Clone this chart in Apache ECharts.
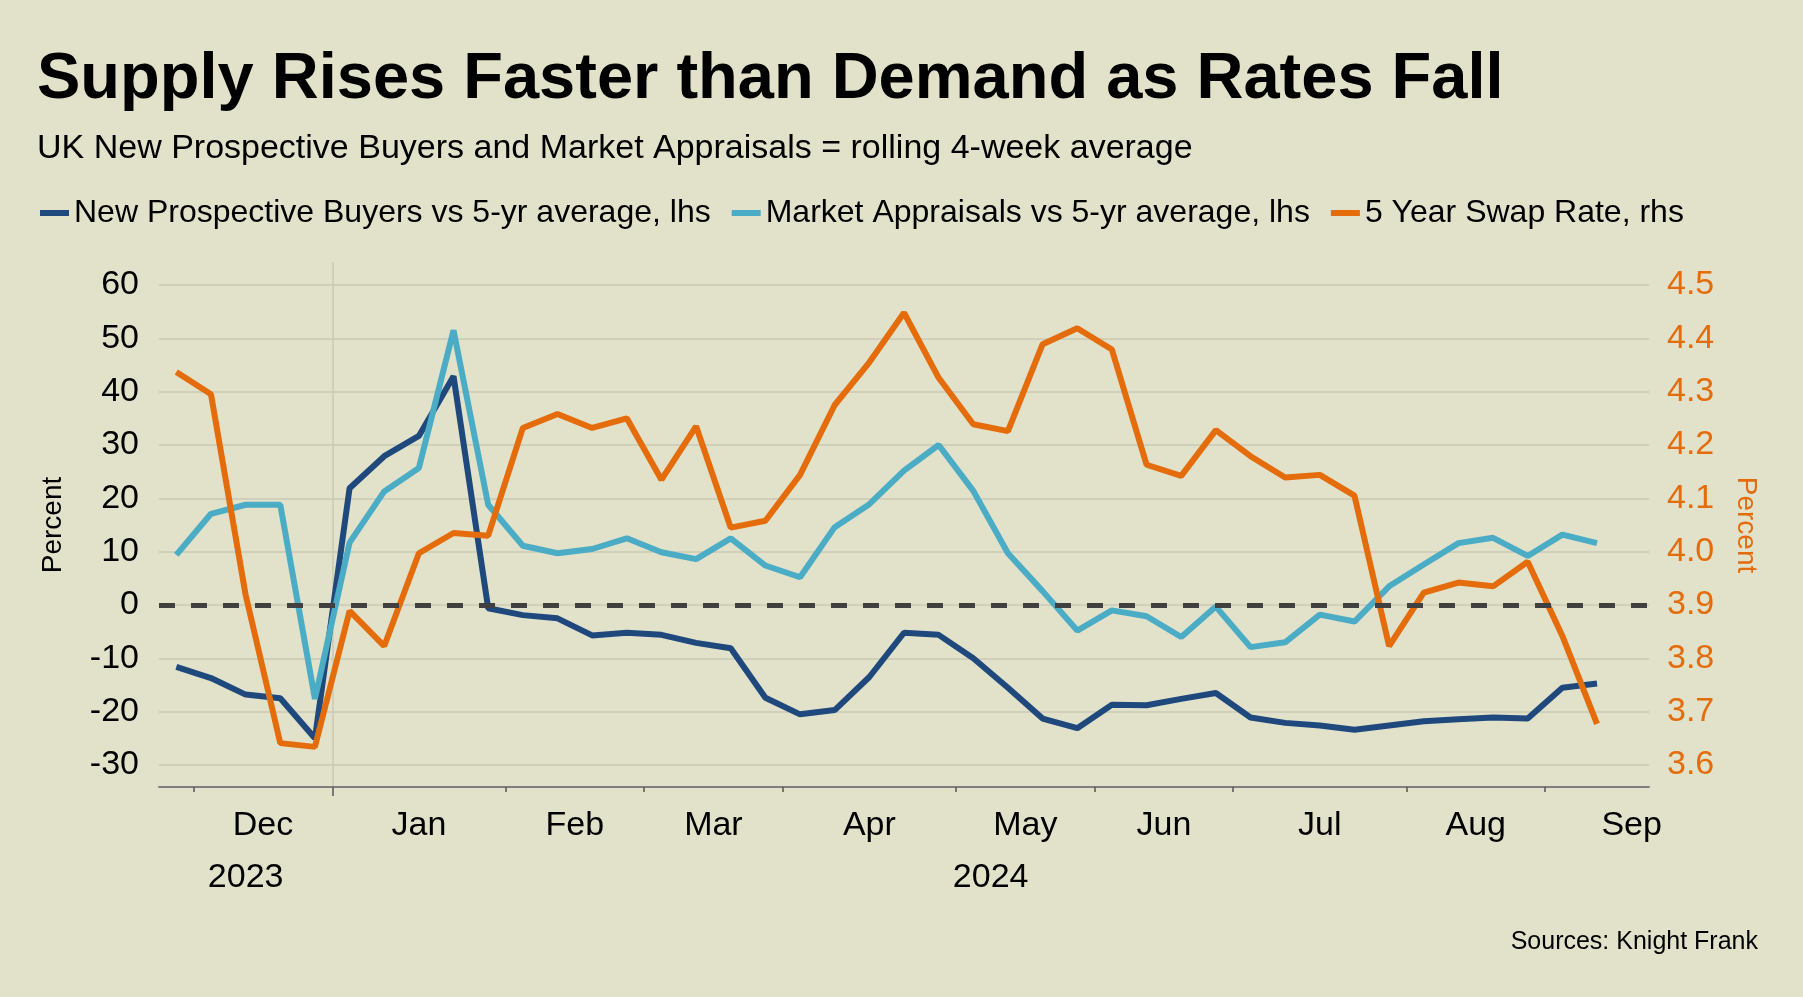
<!DOCTYPE html>
<html>
<head>
    <meta charset="UTF-8" />
    <title>Supply Rises Faster than Demand as Rates Fall</title>
    <script src="https://cdn.jsdelivr.net/npm/echarts@6/dist/echarts.min.js"></script>
    <style>
        html, body { margin: 0; padding: 0; background: #E2E1CA; }
        #chart { width: 1803px; height: 997px; }
    </style>
</head>
<body>
<div id="chart"></div>
<script type="text/javascript">
    // weekly categories: Mondays from 27 Nov 2023, 43 weeks on the axis
    var firstWeek = '2023-11-27';
    var weekCount = 43;

    // month groups on the axis (Mondays per month), Nov-23 .. Sep-24
    var monthNames = ['', 'Dec', 'Jan', 'Feb', 'Mar', 'Apr', 'May', 'Jun', 'Jul', 'Aug', 'Sep'];
    var monthWeeks = [1, 4, 5, 4, 4, 5, 4, 4, 5, 4, 5];
    var yearNames = ['2023', '2024'];
    var yearWeeks = [5, 38];

    // New Prospective Buyers vs 5-yr average, lhs (%)
    var buyers = [-11.6, -13.7, -16.8, -17.5, -25.0, 21.9, 27.9, 31.7, 42.9, -0.6, -1.9,
        -2.5, -5.7, -5.2, -5.6, -7.1, -8.1, -17.4, -20.5, -19.7, -13.5, -5.2,
        -5.6, -10.0, -15.5, -21.3, -23.1, -18.7, -18.8, -17.6, -16.5, -21.1, -22.1,
        -22.6, -23.4, -22.6, -21.8, -21.4, -21.1, -21.3, -15.5, -14.7];
    // Market Appraisals vs 5-yr average, lhs (%)
    var appraisals = [9.4, 17.1, 18.8, 18.8, -17.6, 11.7, 21.3, 25.7, 51.5, 18.8, 11.1,
        9.7, 10.5, 12.5, 9.9, 8.6, 12.5, 7.4, 5.2, 14.6, 18.9, 25.2,
        30.0, 21.4, 9.7, 2.6, -4.8, -1.0, -2.1, -6.0, -0.3, -7.9, -7.0,
        -1.8, -3.1, 3.5, 7.6, 11.6, 12.6, 9.2, 13.2, 11.6];
    // 5 Year Swap Rate, rhs (%)
    var swapRate = [4.337, 4.295, 3.919, 3.641, 3.634, 3.889, 3.823, 3.997, 4.035, 4.030, 4.232,
        4.258, 4.232, 4.250, 4.135, 4.235, 4.045, 4.058, 4.144, 4.275, 4.355, 4.448,
        4.326, 4.239, 4.226, 4.389, 4.419, 4.379, 4.163, 4.142, 4.228, 4.179, 4.139,
        4.144, 4.105, 3.823, 3.923, 3.942, 3.935, 3.981, 3.842, 3.677];

    var seriesNames = ['New Prospective Buyers vs 5-yr average, lhs',
        'Market Appraisals vs 5-yr average, lhs',
        '5 Year Swap Rate, rhs'];
    var colors = ['#1F497D', '#4BACC6', '#E46C0A'];

    var font = "'Liberation Sans', Arial, sans-serif";

    // week categories
    var weeks = [];
    var d0 = new Date(firstWeek + 'T00:00:00Z');
    for (var i = 0; i < weekCount; i++) {
        var d = new Date(d0.getTime() + i * 7 * 86400000);
        weeks.push(d.toISOString().slice(0, 10));
    }

    // half-week slots so that group labels can sit between ticks
    var slotCount = weekCount * 2 + 1;
    var monthSlots = [], yearSlots = [];
    for (var s = 0; s < slotCount; s++) { monthSlots.push(''); yearSlots.push(''); }
    var tickSlots = {};
    var start = 0;
    for (var m = 0; m < monthNames.length; m++) {
        if (start > 0) tickSlots[start * 2] = true;
        var c = Math.round((start + monthWeeks[m] / 2) * 2);
        if (c < slotCount && monthNames[m]) monthSlots[c] = monthNames[m];
        start += monthWeeks[m];
    }
    var yearBreak = {};
    start = 0;
    for (var y = 0; y < yearNames.length; y++) {
        if (start > 0) yearBreak[start * 2] = true;
        yearSlots[Math.round((start + yearWeeks[y] / 2) * 2)] = yearNames[y];
        start += yearWeeks[y];
    }

    var chart = echarts.init(document.getElementById('chart'));
    var option = {
        backgroundColor: '#E2E1CA',
        animation: false,
        textStyle: { fontFamily: font },
        title: [
            {
                text: 'Supply Rises Faster than Demand as Rates Fall',
                left: 37, top: 48, padding: 0,
                textStyle: { fontFamily: font, fontSize: 65, fontWeight: 'bold', color: '#000' }
            },
            {
                text: 'UK New Prospective Buyers and Market Appraisals = rolling 4-week average',
                left: 37, top: 132, padding: 0,
                textStyle: { fontFamily: font, fontSize: 34, fontWeight: 'normal', color: '#000' }
            },
            {
                text: 'Sources: Knight Frank',
                right: 45, top: 930, padding: 0,
                textStyle: { fontFamily: font, fontSize: 25, fontWeight: 'normal', color: '#000' }
            }
        ],
        legend: {
            data: seriesNames,
            left: 40, top: 197, padding: 0,
            icon: 'rect', itemWidth: 29, itemHeight: 6, itemGap: 21,
            textStyle: { fontFamily: font, fontSize: 32, color: '#000' }
        },
        grid: [
            { left: 159, right: 154, top: 285, bottom: 232 },
            { left: 159, right: 154, top: 262, bottom: 210 }
        ],
        xAxis: [
            { type: 'category', gridIndex: 0, data: weeks, boundaryGap: true, show: false },
            {
                type: 'category', gridIndex: 1, position: 'bottom', data: monthSlots, boundaryGap: false,
                axisLine: { show: true, lineStyle: { color: '#7F7F7F', width: 2 } },
                axisTick: {
                    show: true, length: 5, lineStyle: { color: '#555', width: 1.5 },
                    interval: function (idx) { return !!tickSlots[idx]; }
                },
                axisLabel: {
                    interval: 0, margin: 22, fontSize: 34, color: '#000', fontFamily: font
                },
                splitLine: {
                    show: true, lineStyle: { color: '#C9C8B6', width: 1.5 },
                    interval: function (idx) { return !!yearBreak[idx]; }
                }
            },
            {
                type: 'category', gridIndex: 1, position: 'bottom', data: yearSlots, boundaryGap: false,
                axisLine: { show: false },
                axisTick: {
                    show: true, length: 9, lineStyle: { color: '#555', width: 1.5 },
                    interval: function (idx) { return !!yearBreak[idx]; }
                },
                axisLabel: {
                    interval: 0, margin: 74, fontSize: 34, color: '#000', fontFamily: font
                },
                splitLine: { show: false }
            }
        ],
        yAxis: [
            {
                type: 'value', gridIndex: 0, position: 'left',
                min: -30, max: 60, interval: 10,
                axisLine: { show: false }, axisTick: { show: false },
                axisLabel: { fontSize: 34, color: '#000', margin: 20, fontFamily: font },
                splitLine: { lineStyle: { color: '#C9C8B6', width: 1.5 } },
                name: 'Percent', nameLocation: 'middle', nameGap: 92,
                nameTextStyle: { fontSize: 28, color: '#000', fontFamily: font }
            },
            {
                type: 'value', gridIndex: 0, position: 'right',
                min: 3.6, max: 4.5, interval: 0.1,
                axisLine: { show: false }, axisTick: { show: false },
                axisLabel: {
                    fontSize: 34, color: '#E46C0A', margin: 18, fontFamily: font,
                    formatter: function (v) { return v.toFixed(1); }
                },
                splitLine: { show: false },
                name: 'Percent', nameLocation: 'middle', nameGap: 83, nameRotate: -90,
                nameTextStyle: { fontSize: 28, color: '#E46C0A', fontFamily: font }
            },
            { type: 'value', gridIndex: 1, min: 0, max: 1, show: false }
        ],
        series: [
            {
                name: 'zero', type: 'line', xAxisIndex: 0, yAxisIndex: 0, data: [], z: 1,
                markLine: {
                    silent: true, symbol: ['none', 'none'], label: { show: false },
                    lineStyle: { color: '#404040', width: 5, type: [16, 16] },
                    data: [{ yAxis: 0 }]
                }
            },
            {
                name: seriesNames[0], type: 'line', xAxisIndex: 0, yAxisIndex: 0, data: buyers,
                symbol: 'none', z: 2,
                lineStyle: { color: colors[0], width: 6 }, itemStyle: { color: colors[0] }
            },
            {
                name: seriesNames[1], type: 'line', xAxisIndex: 0, yAxisIndex: 0, data: appraisals,
                symbol: 'none', z: 3,
                lineStyle: { color: colors[1], width: 6 }, itemStyle: { color: colors[1] }
            },
            {
                name: seriesNames[2], type: 'line', xAxisIndex: 0, yAxisIndex: 1, data: swapRate,
                symbol: 'none', z: 4,
                lineStyle: { color: colors[2], width: 6 }, itemStyle: { color: colors[2] }
            }
        ]
    };
    chart.setOption(option);
</script>
</body>
</html>
